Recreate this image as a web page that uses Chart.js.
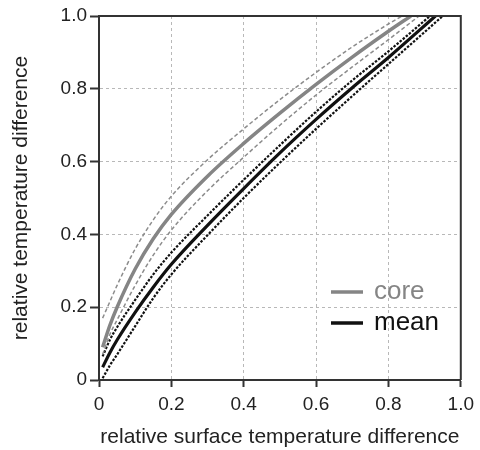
<!DOCTYPE html>
<html><head><meta charset="utf-8">
<script src="https://cdn.jsdelivr.net/npm/chart.js@4/dist/chart.umd.min.js"></script>
<style>html,body{margin:0;padding:0;background:#fff}</style>
</head><body>
<canvas id="c" width="480" height="450" style="width:480px;height:450px;display:block"></canvas>
<script>
// sampled x positions (relative surface temperature difference)
const xSample = [0.01, 0.03, 0.05, 0.1, 0.15, 0.2, 0.3, 0.4, 0.5, 0.6, 0.7, 0.8];
// core temperature: central curve and its dashed bounds
const coreUpper = [0.17, 0.215, 0.26, 0.36, 0.44, 0.505, 0.605, 0.69, 0.77, 0.845, 0.915, 0.978];
const coreMid   = [0.09, 0.15, 0.2, 0.305, 0.388, 0.455, 0.56, 0.65, 0.733, 0.812, 0.887, 0.958];
const coreLower = [0.07, 0.125, 0.165, 0.26, 0.343, 0.412, 0.52, 0.612, 0.70, 0.783, 0.86, 0.935];
// mean temperature: central curve and its dashed bounds
const meanUpper = [0.065, 0.11, 0.145, 0.22, 0.29, 0.35, 0.452, 0.55, 0.645, 0.737, 0.823, 0.903];
const meanMid   = [0.035, 0.075, 0.11, 0.186, 0.255, 0.318, 0.425, 0.526, 0.624, 0.716, 0.803, 0.886];
const meanLower = [0.005, 0.04, 0.07, 0.148, 0.225, 0.29, 0.398, 0.50, 0.597, 0.69, 0.78, 0.868];
// x where each curve reaches 1.0
const coreUpperEnd = 0.838, coreMidEnd = 0.862, coreLowerEnd = 0.885;
const meanUpperEnd = 0.915, meanMidEnd = 0.93, meanLowerEnd = 0.95;
// tick labels
const xTickLabels = ['0', '0.2', '0.4', '0.6', '0.8', '1.0'];
const yTickLabels = ['0', '0.2', '0.4', '0.6', '0.8', '1.0'];
const legendLabels = ['core', 'mean'];

function pts(ys, endX) {
  const p = xSample.map((x, i) => ({x: x, y: ys[i]}));
  p.push({x: endX, y: 1.0});
  return p;
}

const GRAY = '#858585', GRAYD = '#8c8c8c', BLACK = '#111111';
const FONT = "'Liberation Sans', Arial, Helvetica, sans-serif";

function ds(label, data, color, width, dash) {
  return {label, data, borderColor: color, borderWidth: width, borderDash: dash,
    pointRadius: 0, fill: false, cubicInterpolationMode: 'monotone'};
}

const datasets = [
  ds('core upper', pts(coreUpper, coreUpperEnd), GRAYD, 1.5, [4, 2.5]),
  ds('core lower', pts(coreLower, coreLowerEnd), GRAYD, 1.5, [4, 2.5]),
  ds('mean upper', pts(meanUpper, meanUpperEnd), BLACK, 2.2, [2.5, 1.5]),
  ds('mean lower', pts(meanLower, meanLowerEnd), BLACK, 2.2, [2.5, 1.5]),
  ds(legendLabels[0], pts(coreMid, coreMidEnd), GRAY, 3.5, []),
  ds(legendLabels[1], pts(meanMid, meanMidEnd), BLACK, 3.2, [])
];

const framePlugin = {
  id: 'frame',
  afterDatasetsDraw(chart) {
    const {ctx, chartArea: a} = chart;
    ctx.save();
    ctx.strokeStyle = '#333';
    ctx.lineWidth = 2;
    ctx.beginPath();
    ctx.moveTo(a.left, a.top);
    ctx.lineTo(a.right, a.top);
    ctx.lineTo(a.right, a.bottom);
    ctx.stroke();
    ctx.restore();
  }
};

const legendPlugin = {
  id: 'insideLegend',
  afterDatasetsDraw(chart) {
    const {ctx, chartArea: a} = chart;
    const items = [
      {text: legendLabels[0], color: GRAY, dy: 0},
      {text: legendLabels[1], color: BLACK, dy: 31}
    ];
    ctx.save();
    ctx.font = '26px ' + FONT;
    ctx.textBaseline = 'middle';
    items.forEach(it => {
      const y = a.top + 276 + it.dy;
      ctx.strokeStyle = it.color;
      ctx.lineWidth = 3.5;
      ctx.beginPath();
      ctx.moveTo(a.left + 232, y);
      ctx.lineTo(a.left + 264, y);
      ctx.stroke();
      ctx.fillStyle = it.color;
      ctx.fillText(it.text, a.left + 275, y);
    });
    ctx.restore();
  }
};

new Chart(document.getElementById('c'), {
  type: 'line',
  data: {datasets},
  plugins: [framePlugin, legendPlugin],
  options: {
    responsive: false,
    animation: false,
    devicePixelRatio: 1,
    layout: {padding: {top: 16, right: 18, left: 0, bottom: 0}},
    plugins: {legend: {display: false}, tooltip: {enabled: false}},
    scales: {
      x: {
        type: 'linear', min: 0, max: 1,
        ticks: {stepSize: 0.2, autoSkip: false, maxRotation: 0,
          callback: (v, i) => xTickLabels[i],
          font: {family: FONT, size: 19}, color: '#222', padding: 6},
        grid: {color: '#b8b8b8', lineWidth: 1, tickLength: 7, tickColor: '#333', tickWidth: 2, tickBorderDash: []},
        border: {color: '#333', width: 2, dash: [3, 3]},
        title: {display: true, text: 'relative surface temperature difference',
          font: {family: FONT, size: 21}, color: '#222', padding: {top: 0, bottom: 0}},
        afterFit: s => { s.height = 70; }
      },
      y: {
        type: 'linear', min: 0, max: 1,
        ticks: {stepSize: 0.2, autoSkip: false,
          callback: (v, i) => yTickLabels[i],
          font: {family: FONT, size: 19}, color: '#222', padding: 3},
        grid: {color: '#b8b8b8', lineWidth: 1, tickLength: 9, tickColor: '#333', tickWidth: 2, tickBorderDash: []},
        border: {color: '#333', width: 2, dash: [3, 3]},
        title: {display: true, text: 'relative temperature difference',
          font: {family: FONT, size: 21}, color: '#222', padding: {top: 9, bottom: 0}},
        afterFit: s => { s.width = 99; }
      }
    }
  }
});
</script>
</body></html>
